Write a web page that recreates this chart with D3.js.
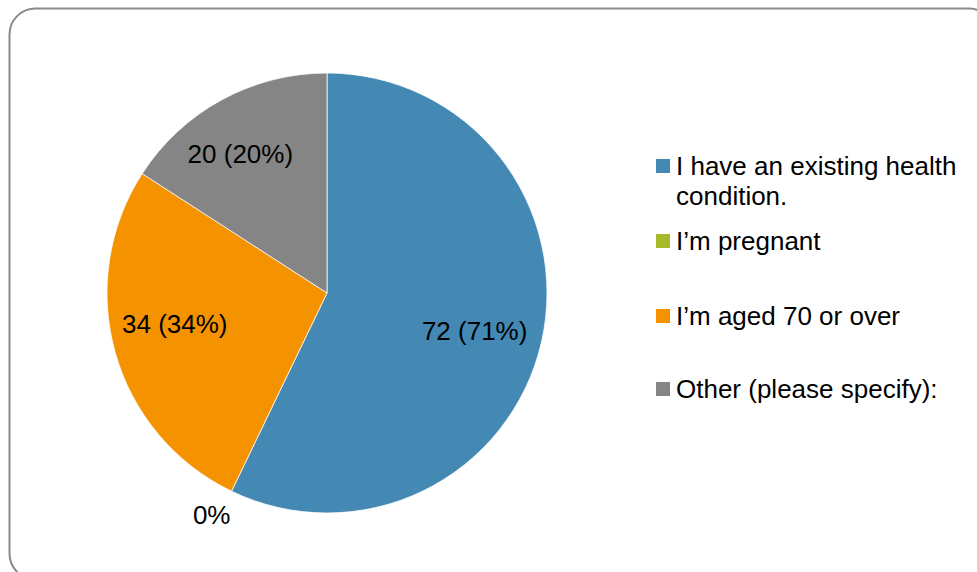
<!DOCTYPE html>
<html>
<head>
<meta charset="utf-8">
<script src="https://cdn.jsdelivr.net/npm/d3@7/dist/d3.min.js"></script>
<style>
  html, body { margin: 0; padding: 0; background: #ffffff; }
  svg { display: block; }
  text { font-family: "Liberation Sans", Arial, sans-serif; fill: #000; }
</style>
</head>
<body>
<svg id="chart" width="977" height="572"></svg>
<script>
// Survey answers: reasons respondents gave
const categories = [
  "I have an existing health condition.",
  "I\u2019m pregnant",
  "I\u2019m aged 70 or over",
  "Other (please specify):"
];
const counts = [72, 0, 34, 20];
const percentLabels = ["71%", "0%", "34%", "20%"];
const colors = ["#4389b4", "#a9b92c", "#f49200", "#858585"];

// Legend text split into display lines
const legendLines = [
  ["I have an existing health", "condition."],
  ["I\u2019m pregnant"],
  ["I\u2019m aged 70 or over"],
  ["Other (please specify):"]
];

const svg = d3.select("#chart");

// Rounded frame that runs off the right and bottom edges
svg.append("rect")
  .attr("x", 9.5).attr("y", 8.5)
  .attr("width", 985).attr("height", 571)
  .attr("rx", 26).attr("ry", 26)
  .attr("fill", "#ffffff")
  .attr("stroke", "#8a8a8a")
  .attr("stroke-width", 2);

const cx = 327, cy = 293, radius = 220;

const data = categories.map((c, i) => ({ name: c, value: counts[i], pct: percentLabels[i], color: colors[i] }));

const pie = d3.pie().sort(null).value(d => d.value);
const arcs = pie(data);

const arc = d3.arc().innerRadius(0).outerRadius(radius);
const labelArc = d3.arc().innerRadius(154).outerRadius(154);
const outerLabelArc = d3.arc().innerRadius(252).outerRadius(252);

// Small best-fit adjustments applied to each label after centroid placement
const labelNudge = [[-2.5, 4], [-6, -5], [-4, -11], [-13, -4]];

const g = svg.append("g").attr("transform", `translate(${cx},${cy})`);

g.selectAll("path.slice")
  .data(arcs.filter(a => a.data.value > 0))
  .join("path")
  .attr("class", "slice")
  .attr("d", arc)
  .attr("fill", d => d.data.color)
  .attr("stroke", "#ffffff")
  .attr("stroke-width", 0.75);

// Data labels: value and share inside each slice, share alone outside for empty slices
g.selectAll("text.label")
  .data(arcs)
  .join("text")
  .attr("class", "label")
  .attr("transform", d => {
    const p = d.data.value > 0 ? labelArc.centroid(d) : outerLabelArc.centroid(d);
    const n = labelNudge[d.index];
    return `translate(${p[0] + n[0]},${p[1] + n[1]})`;
  })
  .attr("text-anchor", "middle")
  .attr("dy", "0.35em")
  .attr("font-size", 26)
  .text(d => d.data.value > 0 ? `${d.data.value} (${d.data.pct})` : d.data.pct);

// Legend
const legendX = 656, textX = 676;
const legendRowsY = [175, 250, 325, 398];
const legend = svg.append("g");
data.forEach((d, i) => {
  const baseY = legendRowsY[i];
  legend.append("rect")
    .attr("x", legendX).attr("y", baseY - 16)
    .attr("width", 14).attr("height", 14)
    .attr("fill", d.color);
  const t = legend.append("text")
    .attr("x", textX).attr("y", baseY)
    .attr("font-size", 26);
  legendLines[i].forEach((line, k) => {
    t.append("tspan").attr("x", textX).attr("y", baseY + k * 30).text(line);
  });
});
</script>
</body>
</html>
